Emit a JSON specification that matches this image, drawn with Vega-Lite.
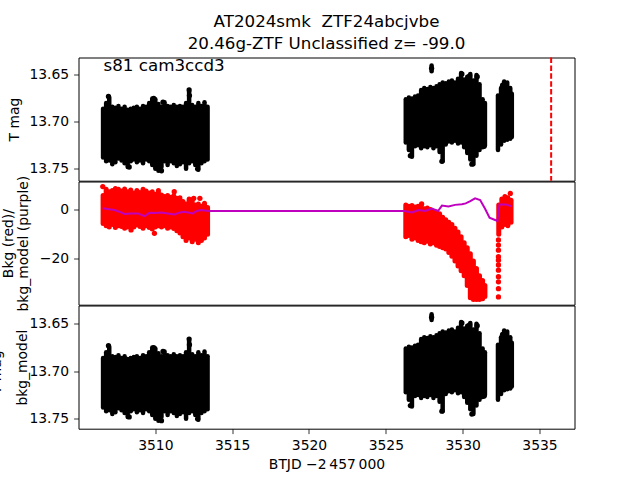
{
  "$schema": "https://vega.github.io/schema/vega-lite/v6.json",
  "padding": {"left": -11.5, "top": 12.5, "right": 60, "bottom": 10},
  "bounds": "flush",
  "spacing": 0,
  "config": {
    "font": "DejaVu Sans",
    "view": {"stroke": "black", "strokeWidth": 1},
    "axis": {"domain": false, "grid": false, "tickColor": "black", "tickSize": 4.9, "tickWidth": 0.8, "labelPadding": 4.9, "labelFontSize": 13.9, "labelColor": "black", "labelFont": "DejaVu Sans", "titleFont": "DejaVu Sans", "titleFontSize": 13.9, "titleFontWeight": "normal", "titleColor": "black"}
  },
  "datasets": {
    "mag": [
      {"t": 3506.6, "top": 13.686, "bot": 13.738},
      {"t": 3506.8, "top": 13.680, "bot": 13.742},
      {"t": 3507.0, "top": 13.674, "bot": 13.741},
      {"t": 3507.2, "top": 13.684, "bot": 13.745},
      {"t": 3507.4, "top": 13.685, "bot": 13.743},
      {"t": 3507.6, "top": 13.683, "bot": 13.739},
      {"t": 3507.8, "top": 13.686, "bot": 13.741},
      {"t": 3508.0, "top": 13.684, "bot": 13.744},
      {"t": 3508.2, "top": 13.687, "bot": 13.748},
      {"t": 3508.4, "top": 13.686, "bot": 13.742},
      {"t": 3508.6, "top": 13.685, "bot": 13.740},
      {"t": 3508.8, "top": 13.684, "bot": 13.743},
      {"t": 3509.0, "top": 13.686, "bot": 13.741},
      {"t": 3509.2, "top": 13.683, "bot": 13.744},
      {"t": 3509.4, "top": 13.684, "bot": 13.740},
      {"t": 3509.6, "top": 13.680, "bot": 13.742},
      {"t": 3509.8, "top": 13.675, "bot": 13.746},
      {"t": 3510.0, "top": 13.676, "bot": 13.750},
      {"t": 3510.2, "top": 13.681, "bot": 13.752},
      {"t": 3510.4, "top": 13.684, "bot": 13.748},
      {"t": 3510.6, "top": 13.679, "bot": 13.742},
      {"t": 3510.8, "top": 13.683, "bot": 13.746},
      {"t": 3511.0, "top": 13.684, "bot": 13.742},
      {"t": 3511.2, "top": 13.682, "bot": 13.744},
      {"t": 3511.4, "top": 13.684, "bot": 13.747},
      {"t": 3511.6, "top": 13.683, "bot": 13.745},
      {"t": 3511.8, "top": 13.684, "bot": 13.743},
      {"t": 3512.0, "top": 13.680, "bot": 13.750},
      {"t": 3512.2, "top": 13.668, "bot": 13.744},
      {"t": 3512.4, "top": 13.682, "bot": 13.742},
      {"t": 3512.6, "top": 13.684, "bot": 13.746},
      {"t": 3512.8, "top": 13.680, "bot": 13.751},
      {"t": 3513.0, "top": 13.683, "bot": 13.744},
      {"t": 3513.2, "top": 13.679, "bot": 13.742},
      {"t": 3513.4, "top": 13.684, "bot": 13.740},
      {"t": 3526.3, "top": 13.676, "bot": 13.722},
      {"t": 3526.5, "top": 13.674, "bot": 13.730},
      {"t": 3526.7, "top": 13.675, "bot": 13.737},
      {"t": 3526.9, "top": 13.673, "bot": 13.726},
      {"t": 3527.1, "top": 13.672, "bot": 13.725},
      {"t": 3527.3, "top": 13.666, "bot": 13.728},
      {"t": 3527.5, "top": 13.664, "bot": 13.726},
      {"t": 3527.7, "top": 13.665, "bot": 13.727},
      {"t": 3527.9, "top": 13.663, "bot": 13.725},
      {"t": 3527.98, "top": 13.640, "bot": 13.646},
      {"t": 3528.1, "top": 13.664, "bot": 13.728},
      {"t": 3528.3, "top": 13.662, "bot": 13.726},
      {"t": 3528.5, "top": 13.660, "bot": 13.732},
      {"t": 3528.7, "top": 13.658, "bot": 13.742},
      {"t": 3528.9, "top": 13.659, "bot": 13.724},
      {"t": 3529.1, "top": 13.657, "bot": 13.721},
      {"t": 3529.3, "top": 13.656, "bot": 13.722},
      {"t": 3529.5, "top": 13.658, "bot": 13.720},
      {"t": 3529.7, "top": 13.654, "bot": 13.723},
      {"t": 3529.9, "top": 13.648, "bot": 13.722},
      {"t": 3530.1, "top": 13.655, "bot": 13.727},
      {"t": 3530.3, "top": 13.652, "bot": 13.733},
      {"t": 3530.5, "top": 13.649, "bot": 13.740},
      {"t": 3530.7, "top": 13.656, "bot": 13.745},
      {"t": 3530.9, "top": 13.650, "bot": 13.736},
      {"t": 3531.1, "top": 13.660, "bot": 13.730},
      {"t": 3531.3, "top": 13.676, "bot": 13.727},
      {"t": 3531.45, "top": 13.680, "bot": 13.725},
      {"t": 3532.3, "top": 13.672, "bot": 13.730},
      {"t": 3532.5, "top": 13.664, "bot": 13.724},
      {"t": 3532.7, "top": 13.657, "bot": 13.720},
      {"t": 3532.9, "top": 13.658, "bot": 13.719},
      {"t": 3533.1, "top": 13.664, "bot": 13.718},
      {"t": 3533.2, "top": 13.670, "bot": 13.716}
    ],
    "magpts": [
      {"t": 3506.95, "m": 13.673},
      {"t": 3509.9, "m": 13.675},
      {"t": 3510.5, "m": 13.679},
      {"t": 3512.2, "m": 13.666},
      {"t": 3512.22, "m": 13.672},
      {"t": 3508.3, "m": 13.748},
      {"t": 3510.4, "m": 13.752},
      {"t": 3512.75, "m": 13.750},
      {"t": 3527.98, "m": 13.643},
      {"t": 3529.95, "m": 13.649},
      {"t": 3530.45, "m": 13.651},
      {"t": 3530.95, "m": 13.652},
      {"t": 3528.65, "m": 13.742},
      {"t": 3530.6, "m": 13.745},
      {"t": 3526.6, "m": 13.736},
      {"t": 3531.4, "m": 13.726},
      {"t": 3532.6, "m": 13.661}
    ],
    "bkg": [
      {"t": 3506.6, "hi": 6.0, "lo": -5.5},
      {"t": 3506.8, "hi": 8.5, "lo": -6.5},
      {"t": 3507.0, "hi": 7.5, "lo": -7.0},
      {"t": 3507.2, "hi": 8.0, "lo": -6.0},
      {"t": 3507.4, "hi": 8.8, "lo": -7.2},
      {"t": 3507.6, "hi": 8.5, "lo": -6.5},
      {"t": 3507.8, "hi": 7.8, "lo": -6.8},
      {"t": 3508.0, "hi": 8.6, "lo": -7.5},
      {"t": 3508.2, "hi": 7.5, "lo": -7.0},
      {"t": 3508.4, "hi": 8.2, "lo": -6.8},
      {"t": 3508.6, "hi": 7.0, "lo": -7.0},
      {"t": 3508.8, "hi": 8.0, "lo": -6.2},
      {"t": 3509.0, "hi": 7.2, "lo": -6.8},
      {"t": 3509.2, "hi": 8.5, "lo": -7.5},
      {"t": 3509.4, "hi": 7.8, "lo": -6.5},
      {"t": 3509.6, "hi": 7.0, "lo": -7.2},
      {"t": 3509.8, "hi": 7.5, "lo": -7.8},
      {"t": 3510.0, "hi": 6.5, "lo": -7.0},
      {"t": 3510.2, "hi": 8.0, "lo": -6.5},
      {"t": 3510.4, "hi": 6.2, "lo": -7.0},
      {"t": 3510.6, "hi": 5.5, "lo": -6.5},
      {"t": 3510.8, "hi": 6.0, "lo": -7.5},
      {"t": 3511.0, "hi": 5.2, "lo": -7.0},
      {"t": 3511.2, "hi": 5.8, "lo": -7.6},
      {"t": 3511.4, "hi": 4.8, "lo": -8.5},
      {"t": 3511.6, "hi": 5.0, "lo": -9.5},
      {"t": 3511.8, "hi": 3.5, "lo": -11.0},
      {"t": 3512.0, "hi": 2.5, "lo": -12.5},
      {"t": 3512.2, "hi": 4.5, "lo": -11.5},
      {"t": 3512.4, "hi": 4.2, "lo": -13.0},
      {"t": 3512.6, "hi": 2.0, "lo": -12.0},
      {"t": 3512.8, "hi": 2.5, "lo": -13.5},
      {"t": 3513.0, "hi": 1.5, "lo": -12.5},
      {"t": 3513.2, "hi": 2.8, "lo": -11.5},
      {"t": 3513.4, "hi": 1.0, "lo": -10.0},
      {"t": 3526.3, "hi": 2.0, "lo": -11.0},
      {"t": 3526.5, "hi": 1.5, "lo": -10.5},
      {"t": 3526.7, "hi": 1.8, "lo": -12.0},
      {"t": 3526.9, "hi": 1.2, "lo": -11.5},
      {"t": 3527.1, "hi": 1.5, "lo": -12.5},
      {"t": 3527.3, "hi": 1.8, "lo": -13.0},
      {"t": 3527.5, "hi": 0.5, "lo": -13.5},
      {"t": 3527.7, "hi": 0.8, "lo": -12.8},
      {"t": 3527.9, "hi": 0.2, "lo": -14.0},
      {"t": 3528.1, "hi": -0.5, "lo": -13.5},
      {"t": 3528.3, "hi": -0.8, "lo": -14.5},
      {"t": 3528.5, "hi": -1.5, "lo": -15.0},
      {"t": 3528.7, "hi": -3.0, "lo": -15.5},
      {"t": 3528.9, "hi": -4.0, "lo": -16.0},
      {"t": 3529.1, "hi": -5.0, "lo": -17.5},
      {"t": 3529.3, "hi": -6.0, "lo": -19.0},
      {"t": 3529.5, "hi": -7.5, "lo": -21.0},
      {"t": 3529.7, "hi": -9.0, "lo": -23.0},
      {"t": 3529.9, "hi": -11.0, "lo": -25.0},
      {"t": 3530.1, "hi": -13.5, "lo": -27.0},
      {"t": 3530.3, "hi": -15.5, "lo": -31.0},
      {"t": 3530.5, "hi": -18.0, "lo": -36.0},
      {"t": 3530.7, "hi": -21.0, "lo": -36.8},
      {"t": 3530.9, "hi": -24.0, "lo": -36.8},
      {"t": 3531.1, "hi": -27.0, "lo": -36.8},
      {"t": 3531.3, "hi": -29.0, "lo": -36.5},
      {"t": 3531.45, "hi": -31.0, "lo": -35.5},
      {"t": 3532.35, "hi": 2.0, "lo": -10.0},
      {"t": 3532.55, "hi": 4.5, "lo": -7.0},
      {"t": 3532.75, "hi": 5.5, "lo": -6.0},
      {"t": 3532.95, "hi": 5.0, "lo": -6.5},
      {"t": 3533.15, "hi": 4.0, "lo": -5.0}
    ],
    "bkgpts": [
      {"t": 3506.58, "v": 9.6},
      {"t": 3508.42, "v": -8.2},
      {"t": 3509.94, "v": -9.6},
      {"t": 3511.23, "v": 7.5},
      {"t": 3512.5, "v": 4.8},
      {"t": 3512.9, "v": 4.8},
      {"t": 3527.33, "v": 2.5},
      {"t": 3533.1, "v": 6.8},
      {"t": 3532.33, "v": -12.3},
      {"t": 3532.33, "v": -14.4},
      {"t": 3532.33, "v": -16.5},
      {"t": 3532.33, "v": -19.2},
      {"t": 3532.33, "v": -20.6},
      {"t": 3532.33, "v": -22.6},
      {"t": 3532.33, "v": -24.7},
      {"t": 3532.33, "v": -27.4},
      {"t": 3532.33, "v": -29.5},
      {"t": 3532.33, "v": -32.3},
      {"t": 3532.33, "v": -35.7}
    ],
    "model": [
      {"t": 3506.58, "v": 0.7},
      {"t": 3507.0, "v": 0.3},
      {"t": 3507.34, "v": 0.0},
      {"t": 3507.7, "v": -0.8},
      {"t": 3507.99, "v": -1.6},
      {"t": 3508.4, "v": -1.4},
      {"t": 3508.86, "v": -1.4},
      {"t": 3509.3, "v": -2.5},
      {"t": 3509.62, "v": -1.1},
      {"t": 3510.0, "v": -1.2},
      {"t": 3510.38, "v": -1.0},
      {"t": 3510.8, "v": -1.4},
      {"t": 3511.24, "v": -1.8},
      {"t": 3511.6, "v": -1.0},
      {"t": 3511.89, "v": -0.7},
      {"t": 3512.43, "v": -1.4},
      {"t": 3512.7, "v": -0.4},
      {"t": 3512.97, "v": 0.0},
      {"t": 3513.45, "v": -0.4},
      {"t": 3526.2, "v": -0.4},
      {"t": 3526.7, "v": -1.0},
      {"t": 3527.13, "v": 0.0},
      {"t": 3527.56, "v": -0.4},
      {"t": 3528.0, "v": 0.6},
      {"t": 3528.4, "v": -0.4},
      {"t": 3528.65, "v": 1.8},
      {"t": 3529.08, "v": 1.4},
      {"t": 3529.51, "v": 2.1},
      {"t": 3529.95, "v": 2.4},
      {"t": 3530.2, "v": 2.7},
      {"t": 3530.5, "v": 3.6},
      {"t": 3530.81, "v": 4.8},
      {"t": 3531.14, "v": 4.1},
      {"t": 3531.46, "v": 0.5},
      {"t": 3531.75, "v": -3.2},
      {"t": 3532.11, "v": -4.1},
      {"t": 3532.26, "v": -4.6},
      {"t": 3532.4, "v": 2.3},
      {"t": 3532.8, "v": 2.3},
      {"t": 3533.19, "v": 1.5}
    ]
  },
  "vconcat": [
    {
      "width": 496,
      "height": 123.2,
      "title": {"text": ["AT2024smk\u00a0 ZTF24abcjvbe", "20.46g-ZTF Unclassified z= -99.0"], "anchor": "middle", "frame": "group", "fontSize": 16.7, "font": "DejaVu Sans", "fontWeight": "normal", "color": "black", "lineHeight": 22.6, "offset": 3.5},
      "layer": [
        {
          "data": {"name": "mag"},
          "mark": {"type": "rule", "color": "black", "strokeWidth": 4.5, "strokeCap": "round", "clip": true},
          "encoding": {
            "x": {"field": "t", "type": "quantitative", "scale": {"domain": [3505.0, 3537.28], "nice": false, "zero": false}, "axis": null},
            "y": {"field": "top", "type": "quantitative", "scale": {"domain": [13.6315, 13.7626], "reverse": true, "nice": false, "zero": false},
                  "axis": {"values": [13.65, 13.70, 13.75], "format": ".2f", "title": "T mag", "titleX": -57.5, "titleAngle": 270, "titleBaseline": "bottom", "titleAlign": "center"}},
            "y2": {"field": "bot"}
          }
        },
        {
          "data": {"name": "magpts"},
          "mark": {"type": "point", "filled": true, "color": "black", "size": 28, "opacity": 1, "clip": true},
          "encoding": {"x": {"field": "t", "type": "quantitative"}, "y": {"field": "m", "type": "quantitative"}}
        },
        {
          "data": {"values": [{}]},
          "mark": {"type": "rule", "color": "red", "strokeWidth": 2, "strokeDash": [5.5, 2.4]},
          "encoding": {"x": {"datum": 3535.76, "type": "quantitative"}}
        },
        {
          "data": {"values": [{}]},
          "mark": {"type": "text", "text": "s81 cam3ccd3", "fontSize": 16.7, "align": "left", "baseline": "alphabetic", "font": "DejaVu Sans", "color": "black"},
          "encoding": {"x": {"datum": 3506.63, "type": "quantitative"}, "y": {"datum": 13.6462, "type": "quantitative"}}
        }
      ]
    },
    {
      "width": 496,
      "height": 123.2,
      "layer": [
        {
          "data": {"name": "bkg"},
          "mark": {"type": "rule", "color": "red", "strokeWidth": 5, "strokeCap": "round", "clip": true},
          "encoding": {
            "x": {"field": "t", "type": "quantitative", "scale": {"domain": [3505.0, 3537.28], "nice": false, "zero": false}, "axis": null},
            "y": {"field": "hi", "type": "quantitative", "scale": {"domain": [-38.9, 11.7], "nice": false, "zero": false},
                  "axis": {"values": [0, -20], "format": "d", "title": ["Bkg (red)/", "bkg_model (purple)"], "titleX": -63.3, "titleLineHeight": 15.6, "titleAngle": 270, "titleBaseline": "bottom", "titleAlign": "center"}},
            "y2": {"field": "lo"}
          }
        },
        {
          "data": {"name": "bkgpts"},
          "mark": {"type": "point", "filled": true, "color": "red", "size": 28, "opacity": 1, "clip": true},
          "encoding": {"x": {"field": "t", "type": "quantitative"}, "y": {"field": "v", "type": "quantitative"}}
        },
        {
          "data": {"name": "model"},
          "mark": {"type": "line", "color": "#bf00bf", "strokeWidth": 2, "clip": true},
          "encoding": {"x": {"field": "t", "type": "quantitative"}, "y": {"field": "v", "type": "quantitative"}}
        }
      ]
    },
    {
      "width": 496,
      "height": 123.2,
      "layer": [
        {
          "data": {"name": "mag"},
          "mark": {"type": "rule", "color": "black", "strokeWidth": 4.5, "strokeCap": "round", "clip": true},
          "encoding": {
            "x": {"field": "t", "type": "quantitative", "scale": {"domain": [3505.0, 3537.28], "nice": false, "zero": false},
                  "axis": {"values": [3510, 3515, 3520, 3525, 3530, 3535], "format": "d", "title": "BTJD −2\u2009457\u2009000", "titlePadding": 5}},
            "y": {"field": "top", "type": "quantitative", "scale": {"domain": [13.6307, 13.7604], "reverse": true, "nice": false, "zero": false},
                  "axis": {"values": [13.65, 13.70, 13.75], "format": ".2f", "title": ["T mag -", "bkg_model"], "titleX": -75, "titleLineHeight": 26, "titleAngle": 270, "titleBaseline": "bottom", "titleAlign": "center"}},
            "y2": {"field": "bot"}
          }
        },
        {
          "data": {"name": "magpts"},
          "mark": {"type": "point", "filled": true, "color": "black", "size": 28, "opacity": 1, "clip": true},
          "encoding": {"x": {"field": "t", "type": "quantitative"}, "y": {"field": "m", "type": "quantitative"}}
        }
      ]
    }
  ]
}
